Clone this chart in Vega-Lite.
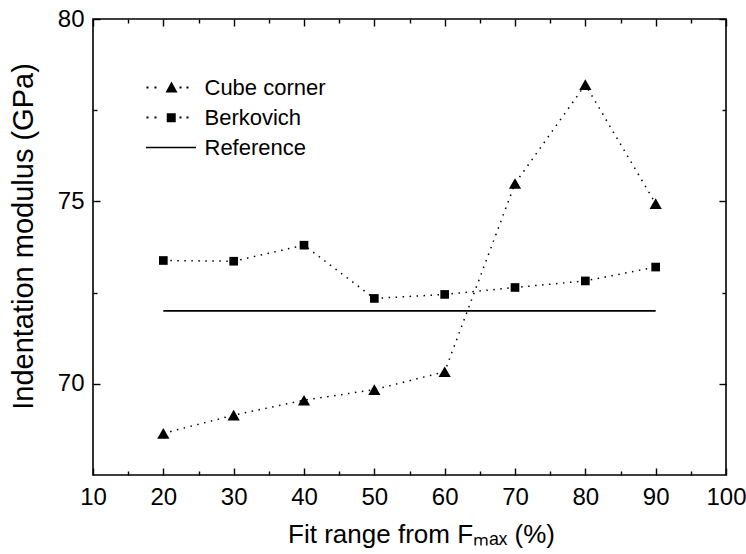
{
  "$schema": "https://vega.github.io/schema/vega-lite/v6.json",
  "width": 633,
  "height": 456,
  "autosize": {"type": "none"},
  "padding": {"left": 93, "top": 19, "right": 20, "bottom": 79},
  "background": "white",
  "config": {
    "font": "Liberation Sans",
    "view": {"stroke": "black", "strokeWidth": 1.6},
    "axis": {"grid": false, "domain": false, "tickColor": "black", "tickWidth": 1.4, "labelColor": "black", "labelFont": "Liberation Sans", "titleFont": "Liberation Sans", "titleColor": "black", "titleFontWeight": "normal"}
  },
  "data": {
    "values": [
      {"series": "Cube corner", "x": 20, "y": 68.64},
      {"series": "Cube corner", "x": 30, "y": 69.14},
      {"series": "Cube corner", "x": 40, "y": 69.55},
      {"series": "Cube corner", "x": 50, "y": 69.84},
      {"series": "Cube corner", "x": 60, "y": 70.33},
      {"series": "Cube corner", "x": 70, "y": 75.49},
      {"series": "Cube corner", "x": 80, "y": 78.2},
      {"series": "Cube corner", "x": 90, "y": 74.94},
      {"series": "Berkovich", "x": 20, "y": 73.38},
      {"series": "Berkovich", "x": 30, "y": 73.36},
      {"series": "Berkovich", "x": 40, "y": 73.8},
      {"series": "Berkovich", "x": 50, "y": 72.34},
      {"series": "Berkovich", "x": 60, "y": 72.45},
      {"series": "Berkovich", "x": 70, "y": 72.64},
      {"series": "Berkovich", "x": 80, "y": 72.82},
      {"series": "Berkovich", "x": 90, "y": 73.2},
      {"series": "Reference", "x": 20, "y": 72.0},
      {"series": "Reference", "x": 90, "y": 72.0}
    ]
  },
  "resolve": {"axis": {"x": "independent", "y": "independent"}, "scale": {"shape": "independent"}},
  "layer": [
    {
      "transform": [{"filter": "datum.series !== 'Reference'"}],
      "mark": {"type": "line", "color": "black", "strokeWidth": 1.5, "strokeDash": [1.5, 5.5]},
      "encoding": {
        "x": {"field": "x", "type": "quantitative", "scale": {"domain": [10, 100], "nice": false, "zero": false},
          "axis": {"orient": "bottom", "values": [10, 20, 30, 40, 50, 60, 70, 80, 90, 100], "tickSize": -7, "labelPadding": 17, "labelFontSize": 24, "labelFlush": false,
            "title": "Fit range from Fₘₐₓ (%)", "titleFontSize": 26, "titleX": 328, "titleY": 67, "titleBaseline": "alphabetic"}},
        "y": {"field": "y", "type": "quantitative", "scale": {"domain": [67.5, 80], "nice": false, "zero": false},
          "axis": {"orient": "left", "values": [70, 75, 80], "tickSize": -7, "labelPadding": 16, "labelFontSize": 24, "labelFlush": false,
            "title": "Indentation modulus (GPa)", "titleFontSize": 29, "titleX": -70, "titleY": 217, "titleAngle": -90, "titleAlign": "center", "titleBaseline": "middle"}},
        "detail": {"field": "series"}
      }
    },
    {
      "transform": [{"filter": "datum.series !== 'Reference'"}],
      "mark": {"type": "point", "filled": true, "color": "black", "opacity": 1},
      "encoding": {
        "x": {"field": "x", "type": "quantitative",
          "axis": {"orient": "top", "values": [10, 20, 30, 40, 50, 60, 70, 80, 90, 100], "tickSize": -7, "labels": false, "title": null}},
        "y": {"field": "y", "type": "quantitative",
          "axis": {"orient": "right", "values": [70, 75, 80], "tickSize": -7, "labels": false, "title": null}},
        "shape": {"field": "series", "type": "nominal", "scale": {"domain": ["Cube corner", "Berkovich"], "range": ["triangle-up", "square"]}, "legend": null},
        "size": {"field": "series", "type": "nominal", "scale": {"domain": ["Cube corner", "Berkovich"], "range": [150, 75]}, "legend": null}
      }
    },
    {
      "transform": [{"filter": "datum.series === 'Reference'"}],
      "mark": {"type": "line", "color": "black", "strokeWidth": 1.8},
      "encoding": {
        "x": {"field": "x", "type": "quantitative",
          "axis": {"orient": "bottom", "values": [15, 25, 35, 45, 55, 65, 75, 85, 95], "tickSize": -4, "labels": false, "title": null}},
        "y": {"field": "y", "type": "quantitative",
          "axis": {"orient": "left", "values": [72.5, 77.5], "tickSize": -4, "labels": false, "title": null}}
      }
    },
    {
      "mark": {"type": "point", "filled": true, "color": "black", "opacity": 0},
      "encoding": {
        "x": {"field": "x", "type": "quantitative",
          "axis": {"orient": "top", "values": [15, 25, 35, 45, 55, 65, 75, 85, 95], "tickSize": -4, "labels": false, "title": null}},
        "y": {"field": "y", "type": "quantitative",
          "axis": {"orient": "right", "values": [72.5, 77.5], "tickSize": -4, "labels": false, "title": null}},
        "shape": {"field": "series", "type": "nominal",
          "scale": {"domain": ["Cube corner", "Berkovich", "Reference"],
            "range": [
              "M-1.324,-0.054h0.108v0.108h-0.108Z M-0.892,-0.054h0.108v0.108h-0.108Z M-0.297,0.27L0.027,-0.324L0.351,0.27Z M0.459,-0.054h0.108v0.108h-0.108Z M0.838,-0.054h0.108v0.108h-0.108Z",
              "M-1.324,-0.054h0.108v0.108h-0.108Z M-0.892,-0.054h0.108v0.108h-0.108Z M-0.23,-0.23h0.486v0.486h-0.486Z M0.459,-0.054h0.108v0.108h-0.108Z M0.838,-0.054h0.108v0.108h-0.108Z",
              "M-1.351,-0.041H1.351V0.041H-1.351Z"
            ]},
          "legend": {"title": null, "orient": "none", "legendX": 59.5, "legendY": 50, "symbolSize": 1369, "symbolOpacity": 1, "symbolFillColor": "black", "symbolStrokeWidth": 0, "labelFontSize": 22, "labelColor": "black", "labelOffset": 15, "rowPadding": 0, "padding": 0}
        }
      }
    }
  ]
}
